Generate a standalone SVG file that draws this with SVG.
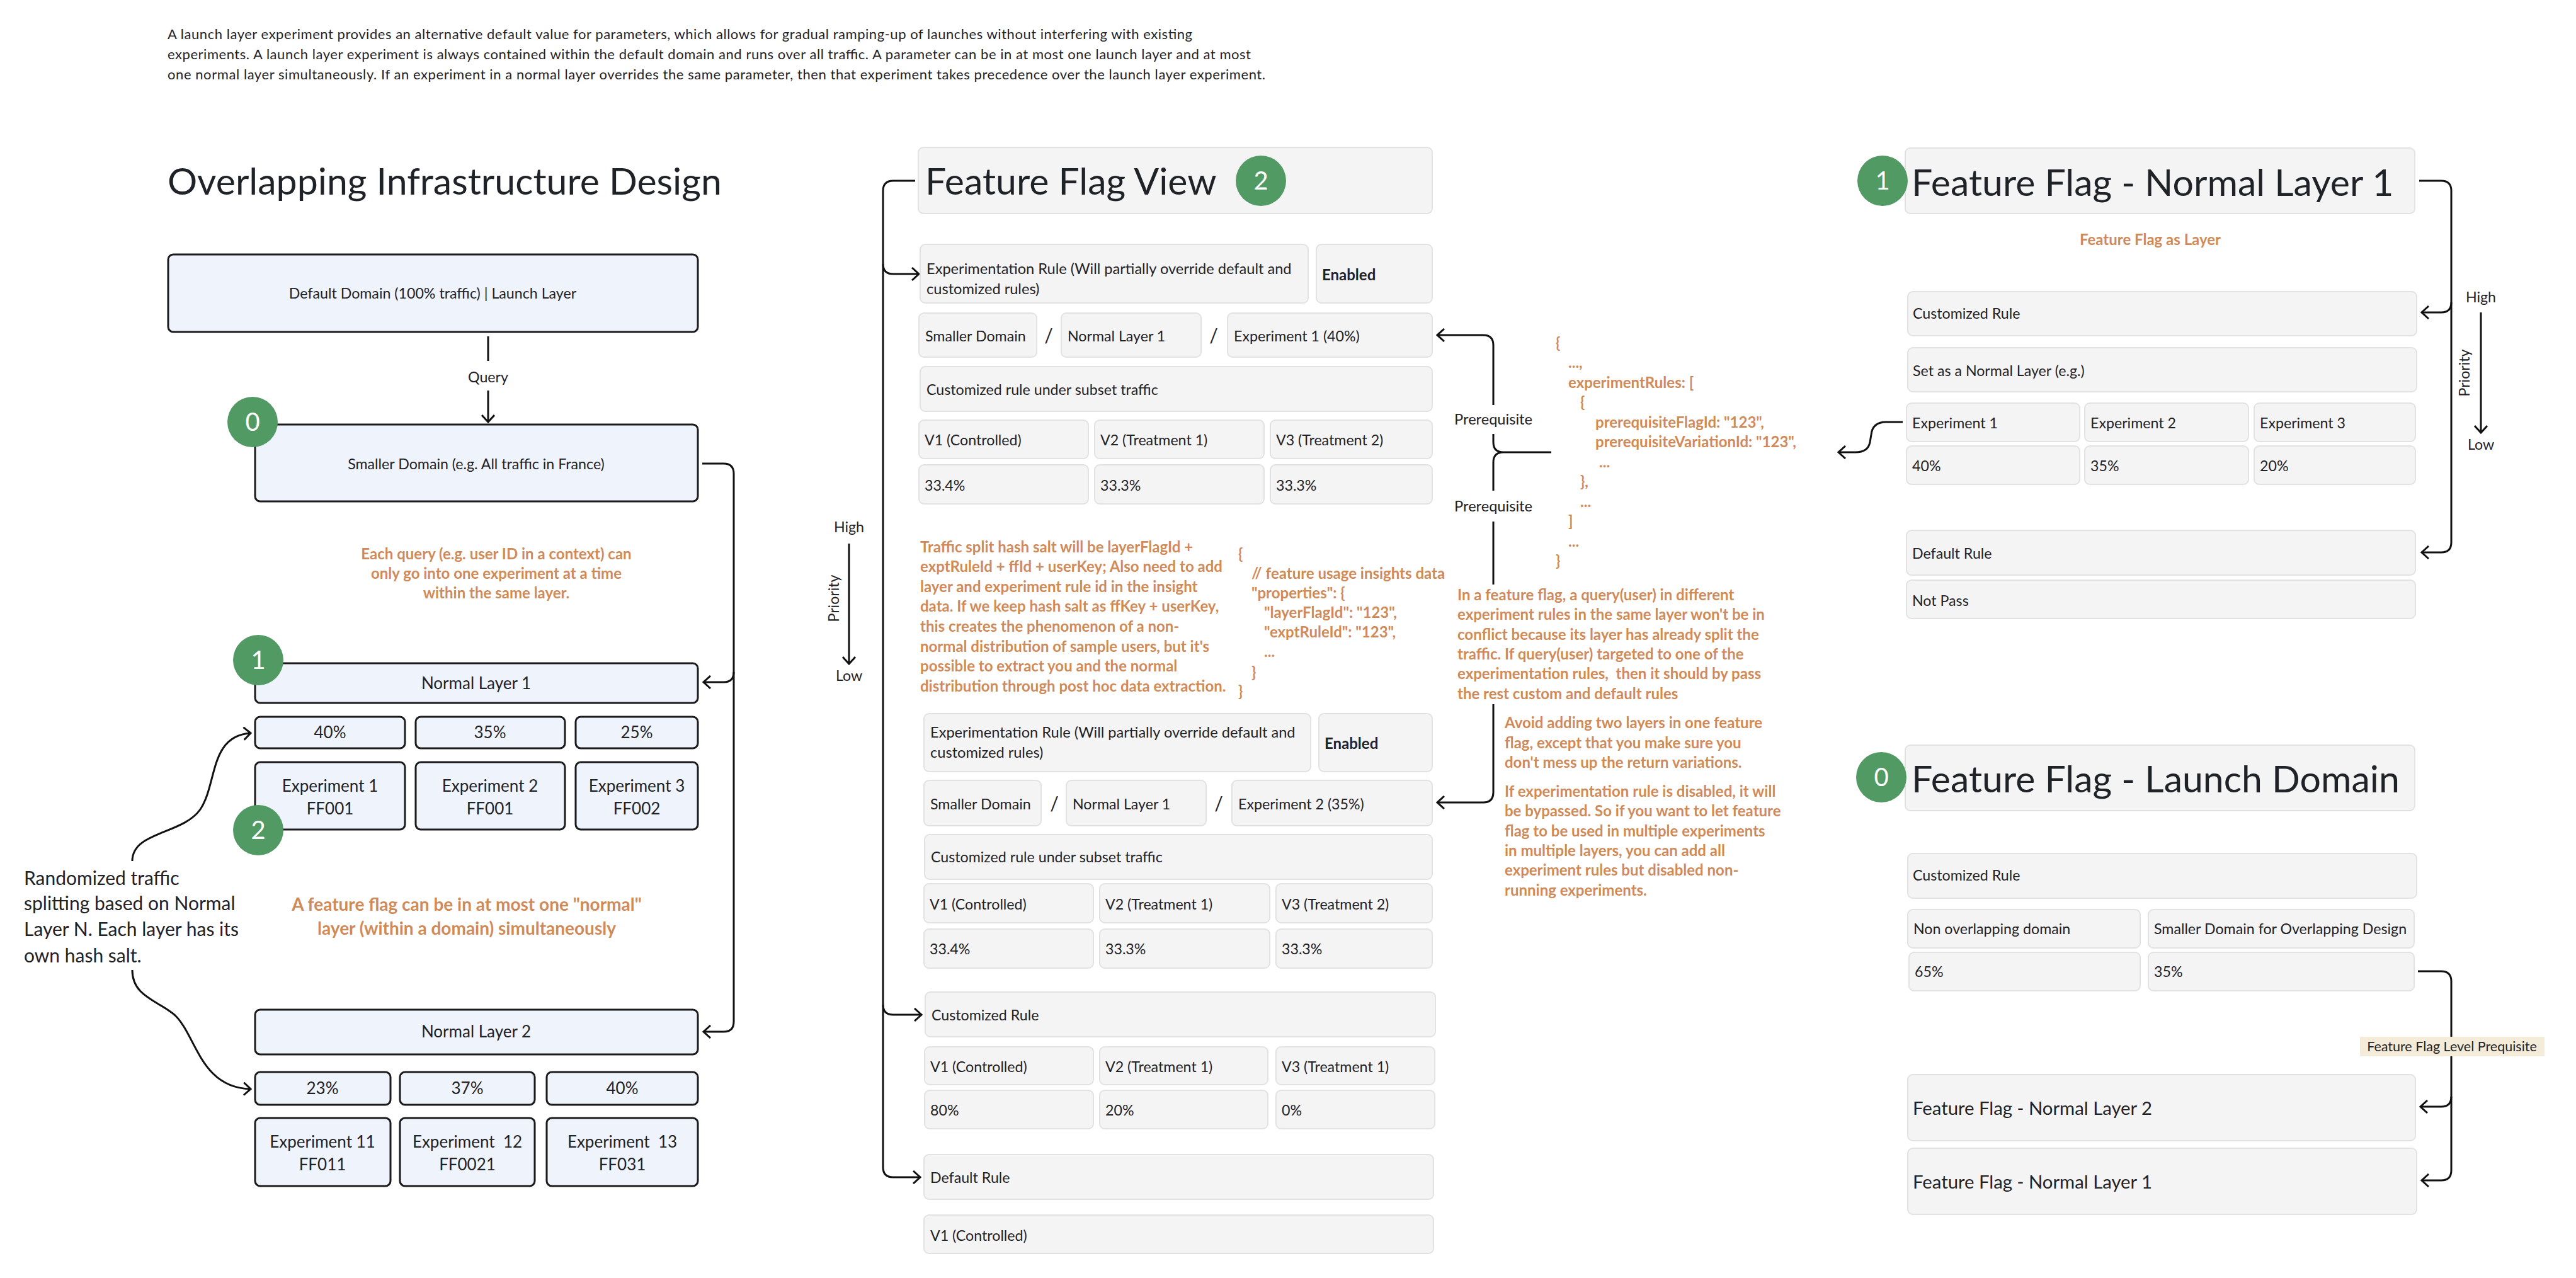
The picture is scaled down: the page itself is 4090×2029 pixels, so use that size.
<svg xmlns="http://www.w3.org/2000/svg" width="4090" height="2029" viewBox="0 0 4090 2029">
<style>
text{font-family:Lato,"Liberation Sans",sans-serif;fill:#1f2226}
.s21{font-size:22px}.s22{font-size:21.5px}.s23{font-size:23.2px}.s235{font-size:23.6px}.s24{font-size:24px}.s26{font-size:26px}.s30{font-size:30px}.s59{font-size:59px}
.o{fill:#d08a58;font-weight:700;font-size:24px}
.bold{font-weight:700}
.m{text-anchor:middle}
.bx{fill:#eef3fc;stroke:#1b1b1b;stroke-width:3}
.gx{fill:#f4f4f4;stroke:#e2e2e2;stroke-width:2}
.c{fill:none;stroke:#111;stroke-width:3}
.ca{fill:none;stroke:#111;stroke-width:3;marker-end:url(#ah)}
.gc{fill:#519a64}
.gt{fill:#fff;font-size:40px;text-anchor:middle}
</style>
<defs>
<marker id="ah" viewBox="0 0 14 22" refX="12" refY="11" markerWidth="14" markerHeight="22" markerUnits="userSpaceOnUse" orient="auto">
<path d="M1 1 L12 11 L1 21" fill="none" stroke="#111" stroke-width="3"/>
</marker>
</defs>
<rect width="4090" height="2029" fill="#fff"/>

<g id="intro">
<text class="s21" x="266" y="62" textLength="1627" lengthAdjust="spacing">A launch layer experiment provides an alternative default value for parameters, which allows for gradual ramping-up of launches without interfering with existing</text>
<text class="s21" x="266" y="94" textLength="1720" lengthAdjust="spacing">experiments. A launch layer experiment is always contained within the default domain and runs over all traffic. A parameter can be in at most one launch layer and at most</text>
<text class="s21" x="266" y="126" textLength="1743" lengthAdjust="spacing">one normal layer simultaneously. If an experiment in a normal layer overrides the same parameter, then that experiment takes precedence over the launch layer experiment.</text>
</g>

<g id="connectors">
<line class="c" x1="775" y1="534" x2="775" y2="573"/>
<path class="ca" d="M775 620 V670"/>
<path class="ca" d="M1115 736 H1149 Q1165 736 1165 752 V1622 Q1165 1638 1149 1638 H1117"/>
<path class="ca" d="M1165 1067 Q1165 1083 1149 1083 H1117"/>
<path class="ca" d="M210 1367 C210 1320 290 1325 318 1285 C345 1245 332 1168 398 1164"/>
<path class="ca" d="M210 1540 C210 1582 250 1588 278 1612 C312 1645 318 1727 398 1729"/>
<path class="ca" d="M1453 287 H1418 Q1402 287 1402 303 V1853 Q1402 1869 1418 1869 H1461"/>
<path class="ca" d="M1402 419 Q1402 435 1418 435 H1459"/>
<path class="ca" d="M1402 1595 Q1402 1611 1418 1611 H1463"/>
<path class="ca" d="M1348 863 V1054"/>
<path class="ca" d="M2371 643 V548 Q2371 532 2355 532 H2282"/>
<path class="c" d="M2371 689 V702 Q2371 718 2387 718 H2463 M2371 779 V734 Q2371 718 2387 718"/>
<path class="c" d="M2371 828 V928"/>
<path class="ca" d="M2371 1118 V1258 Q2371 1274 2355 1274 H2282"/>
<path class="ca" d="M3021 670 H2995 Q2973 670 2971 690 L2969 702 Q2966 718 2946 718 H2919"/>
<path class="ca" d="M3841 287 H3876 Q3892 287 3892 303 V861 Q3892 877 3876 877 H3845"/>
<path class="ca" d="M3892 480 Q3892 496 3876 496 H3845"/>
<path class="ca" d="M3939 496 V687"/>
<path class="c" d="M3839 1542 H3876 Q3892 1542 3892 1558 V1646"/>
<path class="ca" d="M3892 1677 V1858 Q3892 1874 3876 1874 H3845"/>
<path class="ca" d="M3892 1741 Q3892 1757 3876 1757 H3843"/>
<text class="s23 m" x="775" y="607">Query</text>
<text class="s235 m" x="2371" y="674">Prerequisite</text>
<text class="s235 m" x="2371" y="812">Prerequisite</text>
<rect x="3747" y="1646" width="293" height="31" fill="#f4ecd8"/>
<text class="s22 m" x="3893" y="1669">Feature Flag Level Prequisite</text>
</g>

<g id="overlap-title"><text class="s59" x="266" y="309">Overlapping Infrastructure Design</text></g>

<g id="default-domain"><rect class="bx" x="267" y="404" width="841" height="123" rx="8"/><text class="s23 m" x="687" y="474">Default Domain (100% traffic) | Launch Layer</text></g>
<g id="smaller-domain"><rect class="bx" x="405" y="674" width="703" height="122" rx="8"/><text class="s23 m" x="756" y="745">Smaller Domain (e.g. All traffic in France)</text>
<circle class="gc" cx="401" cy="670" r="40"/><text class="gt" x="401" y="684">0</text></g>

<g id="note-each-query"><text class="o m" x="788" y="888">Each query (e.g. user ID in a context) can</text><text class="o m" x="788" y="919">only go into one experiment at a time</text><text class="o m" x="788" y="950">within the same layer.</text></g>

<g id="normal-layer-1"><rect class="bx" x="405" y="1053" width="703" height="63" rx="8"/><text class="s26 m" x="756" y="1094">Normal Layer 1</text>
<circle class="gc" cx="410" cy="1048" r="40"/><text class="gt" x="410" y="1062">1</text></g>
<g id="nl1-pct">
<rect class="bx" x="405" y="1138" width="238" height="50" rx="8"/><text class="s26 m" x="524" y="1172">40%</text>
<rect class="bx" x="660" y="1138" width="237" height="50" rx="8"/><text class="s26 m" x="778" y="1172">35%</text>
<rect class="bx" x="914" y="1138" width="194" height="50" rx="8"/><text class="s26 m" x="1011" y="1172">25%</text>
</g>
<g id="nl1-exp">
<rect class="bx" x="405" y="1210" width="238" height="107" rx="8"/><text class="s26 m" x="524" y="1257">Experiment 1</text><text class="s26 m" x="524" y="1293">FF001</text>
<rect class="bx" x="660" y="1210" width="237" height="107" rx="8"/><text class="s26 m" x="778" y="1257">Experiment 2</text><text class="s26 m" x="778" y="1293">FF001</text>
<rect class="bx" x="914" y="1210" width="194" height="107" rx="8"/><text class="s26 m" x="1011" y="1257">Experiment 3</text><text class="s26 m" x="1011" y="1293">FF002</text>
<circle class="gc" cx="410" cy="1318" r="40"/><text class="gt" x="410" y="1332">2</text>
</g>

<g id="note-random"><text class="s30" x="38" y="1405">Randomized traffic</text><text class="s30" x="38" y="1445">splitting based on Normal</text><text class="s30" x="38" y="1486">Layer N. Each layer has its</text><text class="s30" x="38" y="1528">own hash salt.</text></g>
<g id="note-one-normal"><text class="o m" style="font-size:28px" x="741" y="1446">A feature flag can be in at most one "normal"</text><text class="o m" style="font-size:28px" x="741" y="1484">layer (within a domain) simultaneously</text></g>

<g id="normal-layer-2"><rect class="bx" x="405" y="1603" width="703" height="71" rx="8"/><text class="s26 m" x="756" y="1647">Normal Layer 2</text></g>
<g id="nl2-pct">
<rect class="bx" x="405" y="1702" width="215" height="52" rx="8"/><text class="s26 m" x="512" y="1737">23%</text>
<rect class="bx" x="635" y="1702" width="214" height="52" rx="8"/><text class="s26 m" x="742" y="1737">37%</text>
<rect class="bx" x="868" y="1702" width="240" height="52" rx="8"/><text class="s26 m" x="988" y="1737">40%</text>
</g>
<g id="nl2-exp">
<rect class="bx" x="405" y="1775" width="215" height="108" rx="8"/><text class="s26 m" x="512" y="1822">Experiment 11</text><text class="s26 m" x="512" y="1858">FF011</text>
<rect class="bx" x="635" y="1775" width="214" height="108" rx="8"/><text class="s26 m" x="742" y="1822" xml:space="preserve">Experiment  12</text><text class="s26 m" x="742" y="1858">FF0021</text>
<rect class="bx" x="868" y="1775" width="240" height="108" rx="8"/><text class="s26 m" x="988" y="1822" xml:space="preserve">Experiment  13</text><text class="s26 m" x="988" y="1858">FF031</text>
</g>

<g id="ffv-title"><rect class="gx" x="1458" y="234" width="816" height="105" rx="8"/><text class="s59" x="1469" y="309">Feature Flag View</text>
<circle class="gc" cx="2002" cy="287" r="40"/><text class="gt" x="2002" y="301">2</text></g>

<g id="exp-rule-1">
<rect class="gx" x="1461" y="388" width="616" height="93" rx="8"/><text class="s235" x="1471" y="435">Experimentation Rule (Will partially override default and</text><text class="s235" x="1471" y="467">customized rules)</text>
<rect class="gx" x="2090" y="388" width="184" height="93" rx="8"/><text class="s24 bold" x="2099" y="445">Enabled</text>
<rect class="gx" x="1459" y="497" width="187" height="70" rx="8"/><text class="s23" x="1469" y="542">Smaller Domain</text>
<text class="s30 m" x="1665" y="544">/</text>
<rect class="gx" x="1685" y="497" width="222" height="70" rx="8"/><text class="s23" x="1695" y="542">Normal Layer 1</text>
<text class="s30 m" x="1927" y="544">/</text>
<rect class="gx" x="1949" y="497" width="325" height="70" rx="8"/><text class="s23" x="1959" y="542">Experiment 1 (40%)</text>
<rect class="gx" x="1461" y="582" width="813" height="71" rx="8"/><text class="s23" x="1471" y="627">Customized rule under subset traffic</text>
<rect class="gx" x="1459" y="667" width="269" height="61" rx="8"/><text class="s23" x="1468" y="707">V1 (Controlled)</text>
<rect class="gx" x="1738" y="667" width="269" height="61" rx="8"/><text class="s23" x="1747" y="707">V2 (Treatment 1)</text>
<rect class="gx" x="2017" y="667" width="257" height="61" rx="8"/><text class="s23" x="2026" y="707">V3 (Treatment 2)</text>
<rect class="gx" x="1459" y="738" width="269" height="62" rx="8"/><text class="s23" x="1468" y="779">33.4%</text>
<rect class="gx" x="1738" y="738" width="269" height="62" rx="8"/><text class="s23" x="1747" y="779">33.3%</text>
<rect class="gx" x="2017" y="738" width="257" height="62" rx="8"/><text class="s23" x="2026" y="779">33.3%</text>
</g>

<g id="priority-left">
<text class="s23 m" x="1348" y="845">High</text><text class="s23 m" x="1348" y="1081">Low</text>
<text class="s23 m" transform="translate(1332 950) rotate(-90)">Priority</text>
</g>

<g id="note-hash">
<text class="o" x="1461" y="877">Traffic split hash salt will be layerFlagId +</text>
<text class="o" x="1461" y="908">exptRuleId + ffId + userKey; Also need to add</text>
<text class="o" x="1461" y="940">layer and experiment rule id in the insight</text>
<text class="o" x="1461" y="971">data. If we keep hash salt as ffKey + userKey,</text>
<text class="o" x="1461" y="1003">this creates the phenomenon of a non-</text>
<text class="o" x="1461" y="1035">normal distribution of sample users, but it's</text>
<text class="o" x="1461" y="1066">possible to extract you and the normal</text>
<text class="o" x="1461" y="1098">distribution through post hoc data extraction.</text>
</g>
<g id="json-insights">
<text class="o" x="1966" y="888">{</text>
<text class="o" x="1987" y="919">// feature usage insights data</text>
<text class="o" x="1987" y="950">"properties": {</text>
<text class="o" x="2007" y="981">"layerFlagId": "123",</text>
<text class="o" x="2007" y="1012">"exptRuleId": "123",</text>
<text class="o" x="2007" y="1043">...</text>
<text class="o" x="1987" y="1076">}</text>
<text class="o" x="1966" y="1106">}</text>
</g>

<g id="exp-rule-2">
<rect class="gx" x="1467" y="1133" width="614" height="92" rx="8"/><text class="s235" x="1477" y="1171">Experimentation Rule (Will partially override default and</text><text class="s235" x="1477" y="1203">customized rules)</text>
<rect class="gx" x="2094" y="1133" width="180" height="92" rx="8"/><text class="s24 bold" x="2103" y="1189">Enabled</text>
<rect class="gx" x="1467" y="1239" width="186" height="72" rx="8"/><text class="s23" x="1477" y="1285">Smaller Domain</text>
<text class="s30 m" x="1674" y="1287">/</text>
<rect class="gx" x="1693" y="1239" width="222" height="72" rx="8"/><text class="s23" x="1703" y="1285">Normal Layer 1</text>
<text class="s30 m" x="1935" y="1287">/</text>
<rect class="gx" x="1956" y="1239" width="318" height="72" rx="8"/><text class="s23" x="1966" y="1285">Experiment 2 (35%)</text>
<rect class="gx" x="1468" y="1325" width="806" height="71" rx="8"/><text class="s23" x="1478" y="1369">Customized rule under subset traffic</text>
<rect class="gx" x="1467" y="1403" width="269" height="62" rx="8"/><text class="s23" x="1476" y="1444">V1 (Controlled)</text>
<rect class="gx" x="1746" y="1403" width="270" height="62" rx="8"/><text class="s23" x="1755" y="1444">V2 (Treatment 1)</text>
<rect class="gx" x="2026" y="1403" width="248" height="62" rx="8"/><text class="s23" x="2035" y="1444">V3 (Treatment 2)</text>
<rect class="gx" x="1467" y="1475" width="269" height="62" rx="8"/><text class="s23" x="1476" y="1515">33.4%</text>
<rect class="gx" x="1746" y="1475" width="270" height="62" rx="8"/><text class="s23" x="1755" y="1515">33.3%</text>
<rect class="gx" x="2026" y="1475" width="248" height="62" rx="8"/><text class="s23" x="2035" y="1515">33.3%</text>
</g>

<g id="customized-rule">
<rect class="gx" x="1469" y="1575" width="810" height="71" rx="8"/><text class="s23" x="1479" y="1620">Customized Rule</text>
<rect class="gx" x="1468" y="1662" width="268" height="60" rx="8"/><text class="s23" x="1477" y="1702">V1 (Controlled)</text>
<rect class="gx" x="1746" y="1662" width="267" height="60" rx="8"/><text class="s23" x="1755" y="1702">V2 (Treatment 1)</text>
<rect class="gx" x="2026" y="1662" width="252" height="60" rx="8"/><text class="s23" x="2035" y="1702">V3 (Treatment 1)</text>
<rect class="gx" x="1468" y="1731" width="268" height="61" rx="8"/><text class="s23" x="1477" y="1771">80%</text>
<rect class="gx" x="1746" y="1731" width="267" height="61" rx="8"/><text class="s23" x="1755" y="1771">20%</text>
<rect class="gx" x="2026" y="1731" width="252" height="61" rx="8"/><text class="s23" x="2035" y="1771">0%</text>
</g>

<g id="default-rule">
<rect class="gx" x="1467" y="1833" width="809" height="71" rx="8"/><text class="s23" x="1477" y="1878">Default Rule</text>
<rect class="gx" x="1467" y="1929" width="809" height="61" rx="8"/><text class="s23" x="1477" y="1970">V1 (Controlled)</text>
</g>

<g id="json-prereq">
<text class="o" x="2470" y="553">{</text>
<text class="o" x="2490" y="584">...,</text>
<text class="o" x="2490" y="616">experimentRules: [</text>
<text class="o" x="2509" y="647">{</text>
<text class="o" x="2533" y="679">prerequisiteFlagId: "123",</text>
<text class="o" x="2533" y="710">prerequisiteVariationId: "123",</text>
<text class="o" x="2539" y="742">...</text>
<text class="o" x="2509" y="773">},</text>
<text class="o" x="2509" y="805">...</text>
<text class="o" x="2490" y="836">]</text>
<text class="o" x="2490" y="868">...</text>
<text class="o" x="2470" y="899">}</text>
</g>

<g id="note-conflict">
<text class="o" x="2314" y="953">In a feature flag, a query(user) in different</text>
<text class="o" x="2314" y="984">experiment rules in the same layer won't be in</text>
<text class="o" x="2314" y="1016">conflict because its layer has already split the</text>
<text class="o" x="2314" y="1047">traffic. If query(user) targeted to one of the</text>
<text class="o" x="2314" y="1078" xml:space="preserve">experimentation rules,  then it should by pass</text>
<text class="o" x="2314" y="1110">the rest custom and default rules</text>
</g>
<g id="note-avoid">
<text class="o" x="2389" y="1156">Avoid adding two layers in one feature</text>
<text class="o" x="2389" y="1188">flag, except that you make sure you</text>
<text class="o" x="2389" y="1219">don't mess up the return variations.</text>
</g>
<g id="note-disabled">
<text class="o" x="2389" y="1265">If experimentation rule is disabled, it will</text>
<text class="o" x="2389" y="1296">be bypassed. So if you want to let feature</text>
<text class="o" x="2389" y="1328">flag to be used in multiple experiments</text>
<text class="o" x="2389" y="1359">in multiple layers, you can add all</text>
<text class="o" x="2389" y="1390">experiment rules but disabled non-</text>
<text class="o" x="2389" y="1422">running experiments.</text>
</g>

<g id="ff-normal-layer-1">
<rect class="gx" x="3025" y="235" width="809" height="104" rx="8"/><text class="s59" x="3035" y="311">Feature Flag - Normal Layer 1</text>
<circle class="gc" cx="2989" cy="287" r="40"/><text class="gt" x="2989" y="301">1</text>
<text class="o m" x="3414" y="389">Feature Flag as Layer</text>
<rect class="gx" x="3029" y="463" width="808" height="70" rx="8"/><text class="s23" x="3037" y="506">Customized Rule</text>
<rect class="gx" x="3029" y="552" width="808" height="70" rx="8"/><text class="s23" x="3037" y="597">Set as a Normal Layer (e.g.)</text>
<rect class="gx" x="3027" y="640" width="275" height="61" rx="8"/><text class="s23" x="3036" y="680">Experiment 1</text>
<rect class="gx" x="3310" y="640" width="260" height="61" rx="8"/><text class="s23" x="3319" y="680">Experiment 2</text>
<rect class="gx" x="3579" y="640" width="256" height="61" rx="8"/><text class="s23" x="3588" y="680">Experiment 3</text>
<rect class="gx" x="3027" y="708" width="275" height="61" rx="8"/><text class="s23" x="3036" y="748">40%</text>
<rect class="gx" x="3310" y="708" width="260" height="61" rx="8"/><text class="s23" x="3319" y="748">35%</text>
<rect class="gx" x="3579" y="708" width="256" height="61" rx="8"/><text class="s23" x="3588" y="748">20%</text>
<rect class="gx" x="3027" y="842" width="808" height="71" rx="8"/><text class="s23" x="3036" y="887">Default Rule</text>
<rect class="gx" x="3027" y="921" width="808" height="61" rx="8"/><text class="s23" x="3036" y="962">Not Pass</text>
</g>
<g id="priority-right">
<text class="s23 m" x="3939" y="480">High</text><text class="s23 m" x="3939" y="714">Low</text>
<text class="s23 m" transform="translate(3921 592) rotate(-90)">Priority</text>
</g>

<g id="ff-launch-domain">
<rect class="gx" x="3025" y="1183" width="809" height="104" rx="8"/><text class="s59" x="3035" y="1258">Feature Flag - Launch Domain</text>
<circle class="gc" cx="2987" cy="1234" r="40"/><text class="gt" x="2987" y="1248">0</text>
<rect class="gx" x="3029" y="1355" width="808" height="71" rx="8"/><text class="s23" x="3037" y="1398">Customized Rule</text>
<rect class="gx" x="3029" y="1444" width="369" height="61" rx="8"/><text class="s23" x="3038" y="1483">Non overlapping domain</text>
<rect class="gx" x="3411" y="1444" width="422" height="61" rx="8"/><text class="s23" x="3420" y="1483">Smaller Domain for Overlapping Design</text>
<rect class="gx" x="3031" y="1512" width="367" height="61" rx="8"/><text class="s23" x="3040" y="1551">65%</text>
<rect class="gx" x="3411" y="1512" width="422" height="61" rx="8"/><text class="s23" x="3420" y="1551">35%</text>
</g>
<g id="ff-nl2-ref"><rect class="gx" x="3029" y="1706" width="806" height="105" rx="8"/><text class="s30" style="font-size:29.3px" x="3037" y="1770">Feature Flag - Normal Layer 2</text></g>
<g id="ff-nl1-ref"><rect class="gx" x="3029" y="1823" width="808" height="105" rx="8"/><text class="s30" style="font-size:29.3px" x="3037" y="1887">Feature Flag - Normal Layer 1</text></g>
</svg>
